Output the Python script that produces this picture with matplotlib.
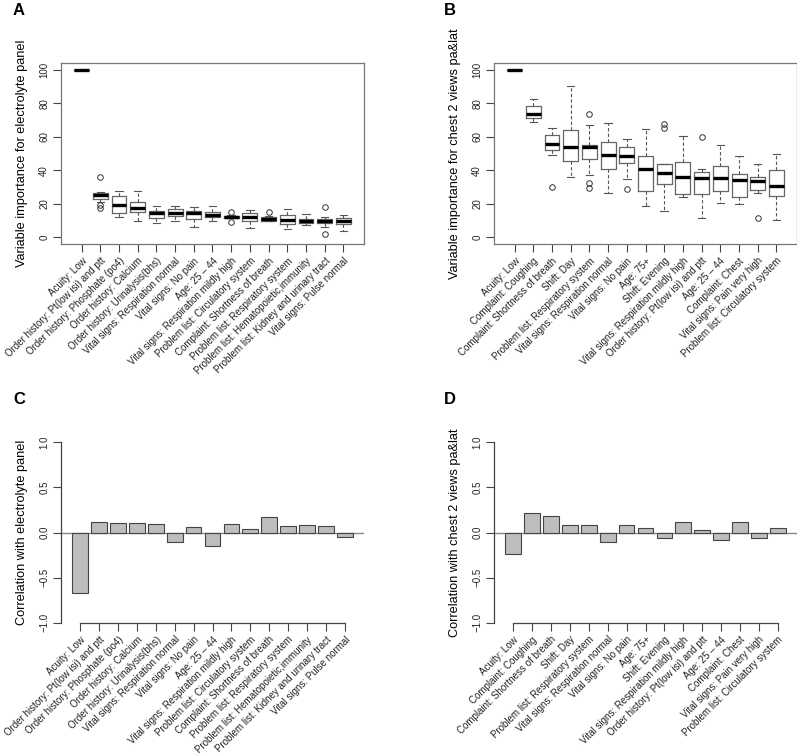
import numpy as np
import matplotlib.pyplot as plt

plt.rcParams['font.family'] = ['Liberation Sans', 'DejaVu Sans']

# panel A / C categories
labels_elec = ['Acuity: Low', 'Order history: Pt(low isi) and ptt', 'Order history: Phosphate (po4)',
               'Order history: Calcium', 'Order history: Urinalysis(bhs)', 'Vital signs: Respiration normal',
               'Vital signs: No pain', 'Age: 25 \u2013 44', 'Vital signs: Respiration mildly high',
               'Problem list: Circulatory system', 'Complaint: Shortness of breath',
               'Problem list: Respiratory system', 'Problem list: Hematopoietic,immunity',
               'Problem list: Kidney and urinary tract', 'Vital signs: Pulse normal']
# panel B / D categories
labels_chest = ['Acuity: Low', 'Complaint: Coughing', 'Complaint: Shortness of breath', 'Shift: Day',
                'Problem list: Respiratory system', 'Vital signs: Respiration normal', 'Vital signs: No pain',
                'Age: 75+', 'Shift: Evening', 'Vital signs: Respiration mildly high',
                'Order history: Pt(low isi) and ptt', 'Age: 25 \u2013 44', 'Complaint: Chest',
                'Vital signs: Pain very high', 'Problem list: Circulatory system']

# box stats, electrolyte panel importance
elec_whislo = [100, 21.0, 12.2, 9.6, 8.8, 9.6, 6.2, 10.0, 11.4, 5.4, 9.6, 5.2, 7.2, 6.0, 3.8]
elec_q1     = [100, 23.0, 14.6, 15.0, 11.8, 13.0, 11.0, 12.2, 11.6, 9.8, 10.0, 8.0, 8.4, 8.8, 8.2]
elec_med    = [100, 25.4, 19.0, 17.6, 14.4, 14.6, 14.2, 13.6, 12.4, 12.0, 11.2, 10.4, 9.8, 10.0, 10.0]
elec_q3     = [100, 26.6, 24.5, 20.8, 15.8, 16.6, 15.4, 15.2, 13.0, 14.4, 12.0, 13.2, 11.2, 11.2, 11.4]
elec_whishi = [100, 27.2, 27.7, 27.7, 18.8, 18.4, 17.8, 18.4, 13.2, 16.4, 12.6, 17.0, 13.8, 12.4, 13.4]
elec_fliers = [[], [35.9, 17.2, 19.0], [], [], [], [], [], [], [15.0, 9.2], [], [15.0], [], [], [17.8, 1.8], []]

# box stats, chest 2 views importance
chest_whislo = [100, 68.7, 48.9, 35.7, 37.1, 26.5, 34.7, 18.6, 15.4, 24.1, 11.8, 20.5, 20.1, 26.5, 10.2]
chest_q1     = [100, 71.3, 51.9, 45.5, 46.9, 40.7, 44.1, 27.5, 31.7, 25.6, 25.6, 27.5, 24.1, 28.0, 24.8]
chest_med    = [100, 73.8, 55.7, 53.7, 53.7, 48.9, 48.7, 40.7, 38.3, 36.1, 35.1, 35.3, 33.9, 33.5, 30.9]
chest_q3     = [100, 78.2, 61.1, 63.9, 55.3, 56.7, 53.9, 48.3, 43.5, 44.7, 38.7, 42.3, 37.9, 35.7, 39.9]
chest_whishi = [100, 82.4, 65.1, 90.2, 67.1, 68.1, 58.5, 64.5, 44.0, 60.7, 40.5, 54.9, 48.3, 43.5, 49.9]
chest_fliers = [[], [], [30.1], [], [73.7, 32.5, 29.5], [], [28.7], [], [67.7, 65.3], [], [59.9], [], [], [11.8], []]

# correlations
corr_elec = [-0.67, 0.114, 0.103, 0.107, 0.092, -0.10, 0.059, -0.15, 0.092, 0.04, 0.17, 0.07, 0.081, 0.07, -0.055]
corr_chest = [-0.243, 0.217, 0.184, 0.081, 0.081, -0.11, 0.081, 0.048, -0.066, 0.114, 0.026, -0.088, 0.118, -0.066, 0.052]

W, H = 797, 755
fig = plt.figure(figsize=(W / 100, H / 100), dpi=100)


def px_axes(left, top, right, bottom):
    return fig.add_axes([left / W, 1 - bottom / H, (right - left) / W, (bottom - top) / H])


tick_fs = 7.0
lab_fs = 9.2
frame_col = '#777777'


def box_panel(ax, labels, lo, q1, med, q3, hi, fl, ylabel):
    stats = []
    for i in range(len(labels)):
        stats.append(dict(whislo=lo[i], q1=q1[i], med=med[i], q3=q3[i], whishi=hi[i], fliers=fl[i]))
    pos = np.arange(1, len(labels) + 1)
    ax.bxp(stats, positions=pos, widths=0.8, showfliers=True,
           boxprops=dict(color='#666666', lw=0.9),
           medianprops=dict(color='black', lw=2.4, solid_capstyle='butt'),
           whiskerprops=dict(color='#555555', lw=0.8, ls=(0, (3, 2))),
           capprops=dict(color='#555555', lw=0.8), capwidths=0.4,
           flierprops=dict(marker='o', mfc='none', mec='#333333', ms=4, mew=0.7))
    ax.set_xlim(-0.1, len(labels) + 1.1)
    ax.set_ylim(-4, 104)
    ax.set_yticks([0, 20, 40, 60, 80, 100])
    ax.set_yticklabels(['0', '20', '40', '60', '80', '100'], rotation=90, va='center')
    ax.set_xticks(pos)
    ax.set_xticklabels(labels, rotation=45, ha='right', rotation_mode='anchor')
    for s in ax.spines.values():
        s.set_color(frame_col)
        s.set_linewidth(0.9)
    ax.tick_params(length=6, width=0.8, color='#444444', labelsize=tick_fs, labelcolor='#222222', pad=2.5)
    ax.set_ylabel(ylabel, fontsize=lab_fs, labelpad=8)


def bar_panel(ax, labels, vals, ylabel):
    pos = np.arange(1, len(labels) + 1)
    ax.spines['top'].set_visible(False)
    ax.spines['right'].set_visible(False)
    ax.spines['bottom'].set_position(('data', -1.0))
    ax.axhline(0, color='#888888', lw=1.0, zorder=1)
    ax.bar(pos, vals, width=0.833, color='#bdbdbd', edgecolor='#444444', lw=0.8, zorder=2)
    ax.set_xlim(-0.017, len(labels) + 1.017)
    ax.set_ylim(-1.08, 1.08)
    ax.set_yticks([-1.0, -0.5, 0.0, 0.5, 1.0])
    ax.set_yticklabels(['\u22121.0', '\u22120.5', '0.0', '0.5', '1.0'], rotation=90, va='center')
    ax.set_xticks(pos)
    ax.set_xticklabels(labels, rotation=45, ha='right', rotation_mode='anchor')
    ax.spines['left'].set_bounds(-1, 1)
    ax.spines['bottom'].set_bounds(1, len(labels))
    for s in ax.spines.values():
        s.set_color('#444444')
        s.set_linewidth(0.9)
    ax.tick_params(length=6, width=0.8, color='#444444', labelsize=tick_fs, labelcolor='#222222', pad=2.5)
    ax.set_ylabel(ylabel, fontsize=lab_fs, labelpad=8)


axA = px_axes(61, 63, 364, 244)
box_panel(axA, labels_elec, elec_whislo, elec_q1, elec_med, elec_q3, elec_whishi, elec_fliers,
          'Variable importance for electrolyte panel')
axB = px_axes(494, 63, 797, 244)
box_panel(axB, labels_chest, chest_whislo, chest_q1, chest_med, chest_q3, chest_whishi, chest_fliers,
          'Variable importance for chest 2 views pa&lat')
axC = px_axes(61, 435, 364, 630)
bar_panel(axC, labels_elec, corr_elec, 'Correlation with electrolyte panel')
axD = px_axes(494, 435, 797, 630)
bar_panel(axD, labels_chest, corr_chest, 'Correlation with chest 2 views pa&lat')

for lab, x, y in [('A', 13, 3), ('B', 444, 3), ('C', 13, 392), ('D', 444, 392)]:
    fig.text(x / W, 1 - y / H, lab, fontsize=12, fontweight='bold', va='top', ha='left')

fig.savefig('out.png', dpi=100)
